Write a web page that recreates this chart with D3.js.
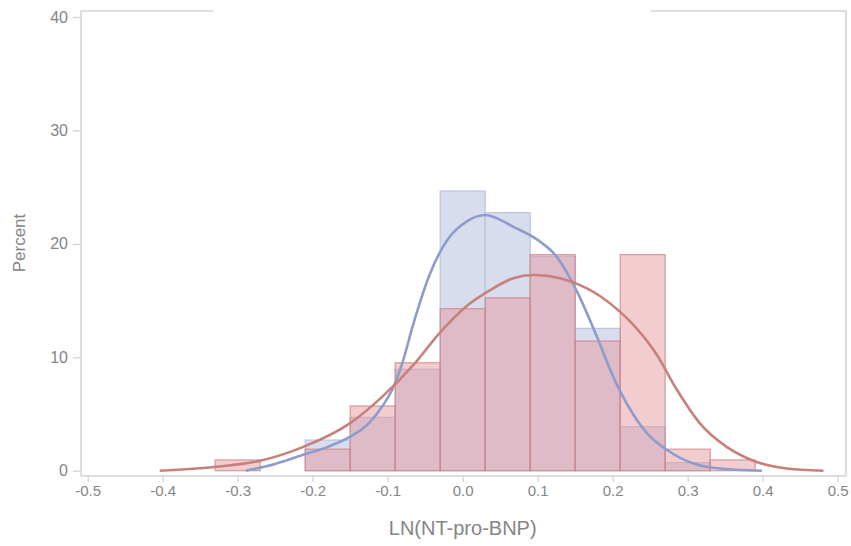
<!DOCTYPE html>
<html>
<head>
<meta charset="utf-8">
<script src="https://cdn.jsdelivr.net/npm/d3@7"></script>
<style>
  html, body { margin: 0; padding: 0; background: #fff; }
  svg { display: block; font-family: "Liberation Sans", Arial, sans-serif; }
</style>
</head>
<body>
<svg id="chart" width="851" height="546"></svg>
<script>
// ---- data ----
const binMids = [-0.30, -0.24, -0.18, -0.12, -0.06, 0.00, 0.06, 0.12, 0.18, 0.24, 0.30, 0.36];
const binWidth = 0.06;
const bluePct = [0, 0, 2.70, 4.70, 8.94, 24.66, 22.75, 18.9, 12.55, 3.88, 0.71, 0];
const redPct  = [0.95, 0, 1.90, 5.71, 9.52, 14.29, 15.24, 19.05, 11.43, 19.05, 1.90, 0.95];

const blueCurveX = [-0.289, -0.25, -0.2125, -0.18, -0.15, -0.125, -0.106, -0.095, -0.08, -0.066, -0.044, -0.021, 0.005, 0.030, 0.0675, 0.103, 0.125, 0.143, 0.156, 0.179, 0.200, 0.210, 0.227, 0.250, 0.272, 0.307, 0.339, 0.399];
const blueCurveY = [0, 0.6, 1.4, 2.1, 3.0, 4.2, 5.8, 7.0, 9.6, 12.9, 17.3, 20.3, 21.96, 22.55, 21.5, 20.2, 18.9, 17.0, 15.3, 11.8, 8.4, 7.0, 5.0, 3.0, 1.85, 0.65, 0.21, 0];

const redCurveX = [-0.404, -0.328, -0.27, -0.2125, -0.15, -0.106, -0.066, -0.030, 0.005, 0.036, 0.0675, 0.094, 0.130, 0.165, 0.183, 0.210, 0.227, 0.259, 0.285, 0.316, 0.352, 0.3875, 0.432, 0.481];
const redCurveY = [0, 0.35, 0.88, 2.1, 4.2, 6.6, 9.3, 12.2, 14.5, 15.9, 16.97, 17.26, 16.97, 16.1, 15.4, 14.0, 12.9, 10.2, 7.2, 4.2, 2.1, 0.88, 0.2, 0];

const xTicks = [-0.5, -0.4, -0.3, -0.2, -0.1, 0.0, 0.1, 0.2, 0.3, 0.4, 0.5];
const yTicks = [0, 10, 20, 30, 40];
const xTitle = "LN(NT-pro-BNP)";
const yTitle = "Percent";

// ---- layout ----
const svg = d3.select("#chart");
const x = d3.scaleLinear().domain([-0.5, 0.5]).range([87.7, 837.7]);
const y = d3.scaleLinear().domain([0, 40]).range([470.7, 17]);

const frameL = 81, frameR = 846, frameT = 11, frameB = 476;
const axisColor = "#d2d2d2";
const textColor = "#858585";

// frame (top has a gap)
const frame = svg.append("g").attr("stroke", axisColor).attr("stroke-width", 1.5).attr("fill", "none");
frame.append("line").attr("x1", frameL).attr("x2", 213).attr("y1", frameT).attr("y2", frameT);
frame.append("line").attr("x1", 651).attr("x2", frameR).attr("y1", frameT).attr("y2", frameT);
frame.append("line").attr("x1", frameR).attr("x2", frameR).attr("y1", frameT).attr("y2", frameB);

// bars
const bins = binMids.map((m, i) => ({ x0: m - binWidth / 2, x1: m + binWidth / 2, b: bluePct[i], r: redPct[i] }));

svg.append("g").selectAll("rect").data(bins.filter(d => d.b > 0)).join("rect")
  .attr("x", d => x(d.x0)).attr("width", d => x(d.x1) - x(d.x0))
  .attr("y", d => y(d.b)).attr("height", d => y(0) - y(d.b))
  .attr("fill", "rgb(216,221,237)")
  .attr("stroke", "rgb(188,196,224)").attr("stroke-width", 1.2);

svg.append("g").selectAll("rect").data(bins).join("rect")
  .attr("x", d => x(d.x0)).attr("width", d => x(d.x1) - x(d.x0))
  .attr("y", d => y(d.r)).attr("height", d => y(0) - y(d.r))
  .attr("fill", "rgb(228,150,155)").attr("fill-opacity", 0.48)
  .attr("stroke", "rgb(205,128,134)").attr("stroke-opacity", 0.7).attr("stroke-width", 1.3);

// curves
const line = d3.line().x(d => x(d[0])).y(d => y(d[1])).curve(d3.curveMonotoneX);
svg.append("path").datum(blueCurveX.map((v, i) => [v, blueCurveY[i]]))
  .attr("d", line).attr("fill", "none").attr("stroke", "rgb(142,156,204)").attr("stroke-width", 2.6);
svg.append("path").datum(redCurveX.map((v, i) => [v, redCurveY[i]]))
  .attr("d", line).attr("fill", "none").attr("stroke", "rgb(200,128,122)").attr("stroke-width", 2.6);

// x axis
const xAxis = svg.append("g").attr("transform", `translate(0,${frameB})`)
  .call(d3.axisBottom(x).tickValues(xTicks).tickFormat(d3.format(".1f")).tickSize(6).tickSizeOuter(0));
xAxis.select(".domain").remove();
xAxis.append("line").attr("x1", frameL).attr("x2", frameR).attr("stroke", axisColor).attr("stroke-width", 1.5);
xAxis.selectAll(".tick line").attr("stroke", axisColor).attr("stroke-width", 1.2);
xAxis.selectAll(".tick text").attr("fill", textColor).attr("font-size", 15).attr("dy", "0.9em").attr("y", 6)
  .text(d => d3.format(".1f")(d).replace("−", "-"));

// y axis
const yAxis = svg.append("g").attr("transform", `translate(${frameL},0)`)
  .call(d3.axisLeft(y).tickValues(yTicks).tickSize(8).tickPadding(5).tickSizeOuter(0));
yAxis.select(".domain").remove();
yAxis.append("line").attr("y1", frameT).attr("y2", frameB).attr("stroke", axisColor).attr("stroke-width", 1.5);
yAxis.selectAll(".tick line").attr("stroke", axisColor).attr("stroke-width", 1.2);
yAxis.selectAll(".tick text").attr("fill", textColor).attr("font-size", 16);

// titles
svg.append("text").attr("x", 462.7).attr("y", 535).attr("text-anchor", "middle")
  .attr("fill", textColor).attr("font-size", 20).text(xTitle);
svg.append("text").attr("transform", "translate(25,243) rotate(-90)").attr("text-anchor", "middle")
  .attr("fill", textColor).attr("font-size", 17).text(yTitle);
</script>
</body>
</html>
